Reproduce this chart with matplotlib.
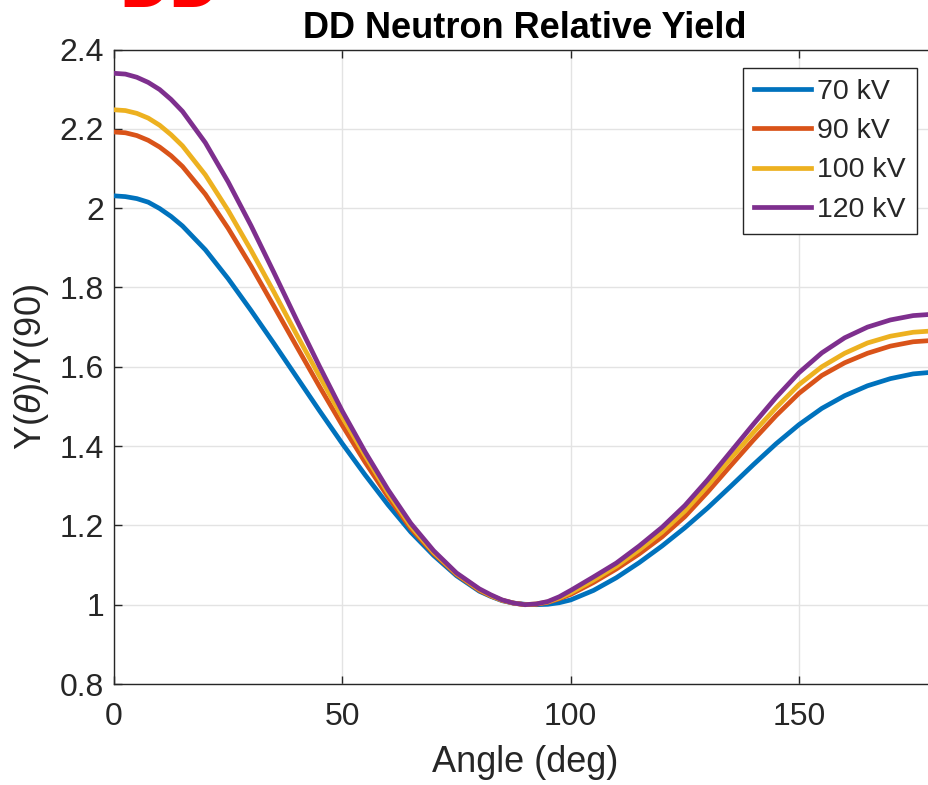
import matplotlib
matplotlib.use("Agg")
from matplotlib import pyplot as plt

# values (finer steps where the curves bend most)
angle_deg = [0, 2.5, 5, 7.5, 10, 12.5, 15, 20, 25, 30, 35, 40, 45, 50, 55, 60, 65, 70, 75,
             80, 82.5, 85, 87.5, 90, 92.5, 95, 97.5, 100, 105, 110, 115, 120, 125, 130, 135,
             140, 145, 150, 155, 160, 165, 170, 175, 180]

yield_70kv = [2.031, 2.029, 2.024, 2.015, 1.999, 1.979, 1.955, 1.895, 1.822, 1.742, 1.659,
              1.574, 1.489, 1.406, 1.327, 1.252, 1.183, 1.124, 1.073,
              1.034, 1.021, 1.010, 1.004, 1.001, 1.000, 1.001, 1.005, 1.012, 1.036, 1.068,
              1.106, 1.148, 1.194, 1.244, 1.298, 1.353, 1.406, 1.454, 1.495, 1.527, 1.552,
              1.570, 1.582, 1.587]
yield_90kv = [2.192, 2.190, 2.183, 2.171, 2.154, 2.132, 2.105, 2.035, 1.949, 1.854, 1.753,
              1.651, 1.550, 1.452, 1.359, 1.272, 1.192, 1.129, 1.076,
              1.036, 1.022, 1.011, 1.004, 1.000, 1.001, 1.006, 1.015, 1.026, 1.056, 1.090,
              1.128, 1.171, 1.222, 1.284, 1.350, 1.415, 1.477, 1.533, 1.578, 1.610, 1.634,
              1.652, 1.663, 1.667]
yield_100kv = [2.248, 2.246, 2.239, 2.227, 2.209, 2.185, 2.157, 2.084, 1.994, 1.894, 1.789,
               1.681, 1.576, 1.473, 1.376, 1.282, 1.198, 1.132, 1.078,
               1.038, 1.023, 1.011, 1.004, 1.000, 1.002, 1.007, 1.017, 1.030, 1.062, 1.097,
               1.138, 1.183, 1.236, 1.300, 1.368, 1.434, 1.497, 1.555, 1.600, 1.634, 1.660,
               1.677, 1.687, 1.691]
yield_120kv = [2.340, 2.338, 2.330, 2.317, 2.299, 2.274, 2.244, 2.165, 2.066, 1.956, 1.838,
               1.718, 1.601, 1.488, 1.385, 1.290, 1.205, 1.136, 1.080,
               1.040, 1.025, 1.012, 1.004, 1.000, 1.002, 1.008, 1.020, 1.036, 1.070, 1.105,
               1.148, 1.195, 1.250, 1.315, 1.385, 1.455, 1.523, 1.585, 1.635, 1.673, 1.700,
               1.718, 1.729, 1.733]

series_labels = ["70 kV", "90 kV", "100 kV", "120 kV"]
series_colors = ["#0072BD", "#D95319", "#EDB120", "#7E2F8E"]

x_ticks = [0, 50, 100, 150]
y_ticks = [0.8, 1.0, 1.2, 1.4, 1.6, 1.8, 2.0, 2.2, 2.4]
y_tick_labels = ["0.8", "1", "1.2", "1.4", "1.6", "1.8", "2", "2.2", "2.4"]

plt.rcParams["font.family"] = ["Liberation Sans", "DejaVu Sans"]
plt.rcParams["mathtext.fontset"] = "custom"
plt.rcParams["mathtext.rm"] = "Liberation Sans"
plt.rcParams["mathtext.it"] = "Liberation Sans:italic"

fig = plt.figure(figsize=(9.29, 7.85), dpi=100)
ax = fig.add_axes([114 / 929, 101 / 785, 822 / 929, 634.5 / 785])

all_series = [yield_70kv, yield_90kv, yield_100kv, yield_120kv]
for values, label, color in zip(all_series, series_labels, series_colors):
    ax.plot(angle_deg, values, color=color, linewidth=3.4, label=label,
            solid_joinstyle="round", zorder=3)

ax.set_xlim(0, 180)
ax.set_ylim(0.8, 2.4)
ax.set_xticks(x_ticks)
ax.set_yticks(y_ticks)
ax.set_yticklabels(y_tick_labels)

ax.grid(True, color="#e3e3e3", linewidth=1.0, zorder=0)
ax.set_axisbelow(True)

for spine in ax.spines.values():
    spine.set_color("#262626")
    spine.set_linewidth(1.0)

ax.tick_params(axis="both", which="major", direction="in", length=6, width=1.0,
               color="#262626", labelcolor="#262626", labelsize=23,
               top=True, right=True)
ax.tick_params(axis="x", pad=13)
ax.tick_params(axis="y", pad=7)

ax.set_xlabel("Angle (deg)", fontsize=26, color="#262626", labelpad=9)
ax.set_ylabel(r"Y($\theta$)/Y(90)", fontsize=26, color="#262626", labelpad=6)
ax.set_title("DD Neutron Relative Yield", fontsize=26, fontweight="bold", pad=8)

leg = ax.legend(loc="upper right", bbox_to_anchor=(0.977, 0.971), borderaxespad=0,
                fontsize=20.5, handlelength=2.0, handletextpad=0.2, labelspacing=0.46,
                borderpad=0.4, fancybox=False, framealpha=1, edgecolor="#262626")
leg.get_frame().set_linewidth(1.0)
for text in leg.get_texts():
    text.set_color("#262626")

# cut-off red heading at the very top of the picture
fig.text(119 / 929, 1 - 7 / 785, "DD", color="#ff0000", fontsize=50, fontweight="bold",
         ha="left", va="baseline")

fig.savefig("out.png", dpi=100)
plt.close(fig)
